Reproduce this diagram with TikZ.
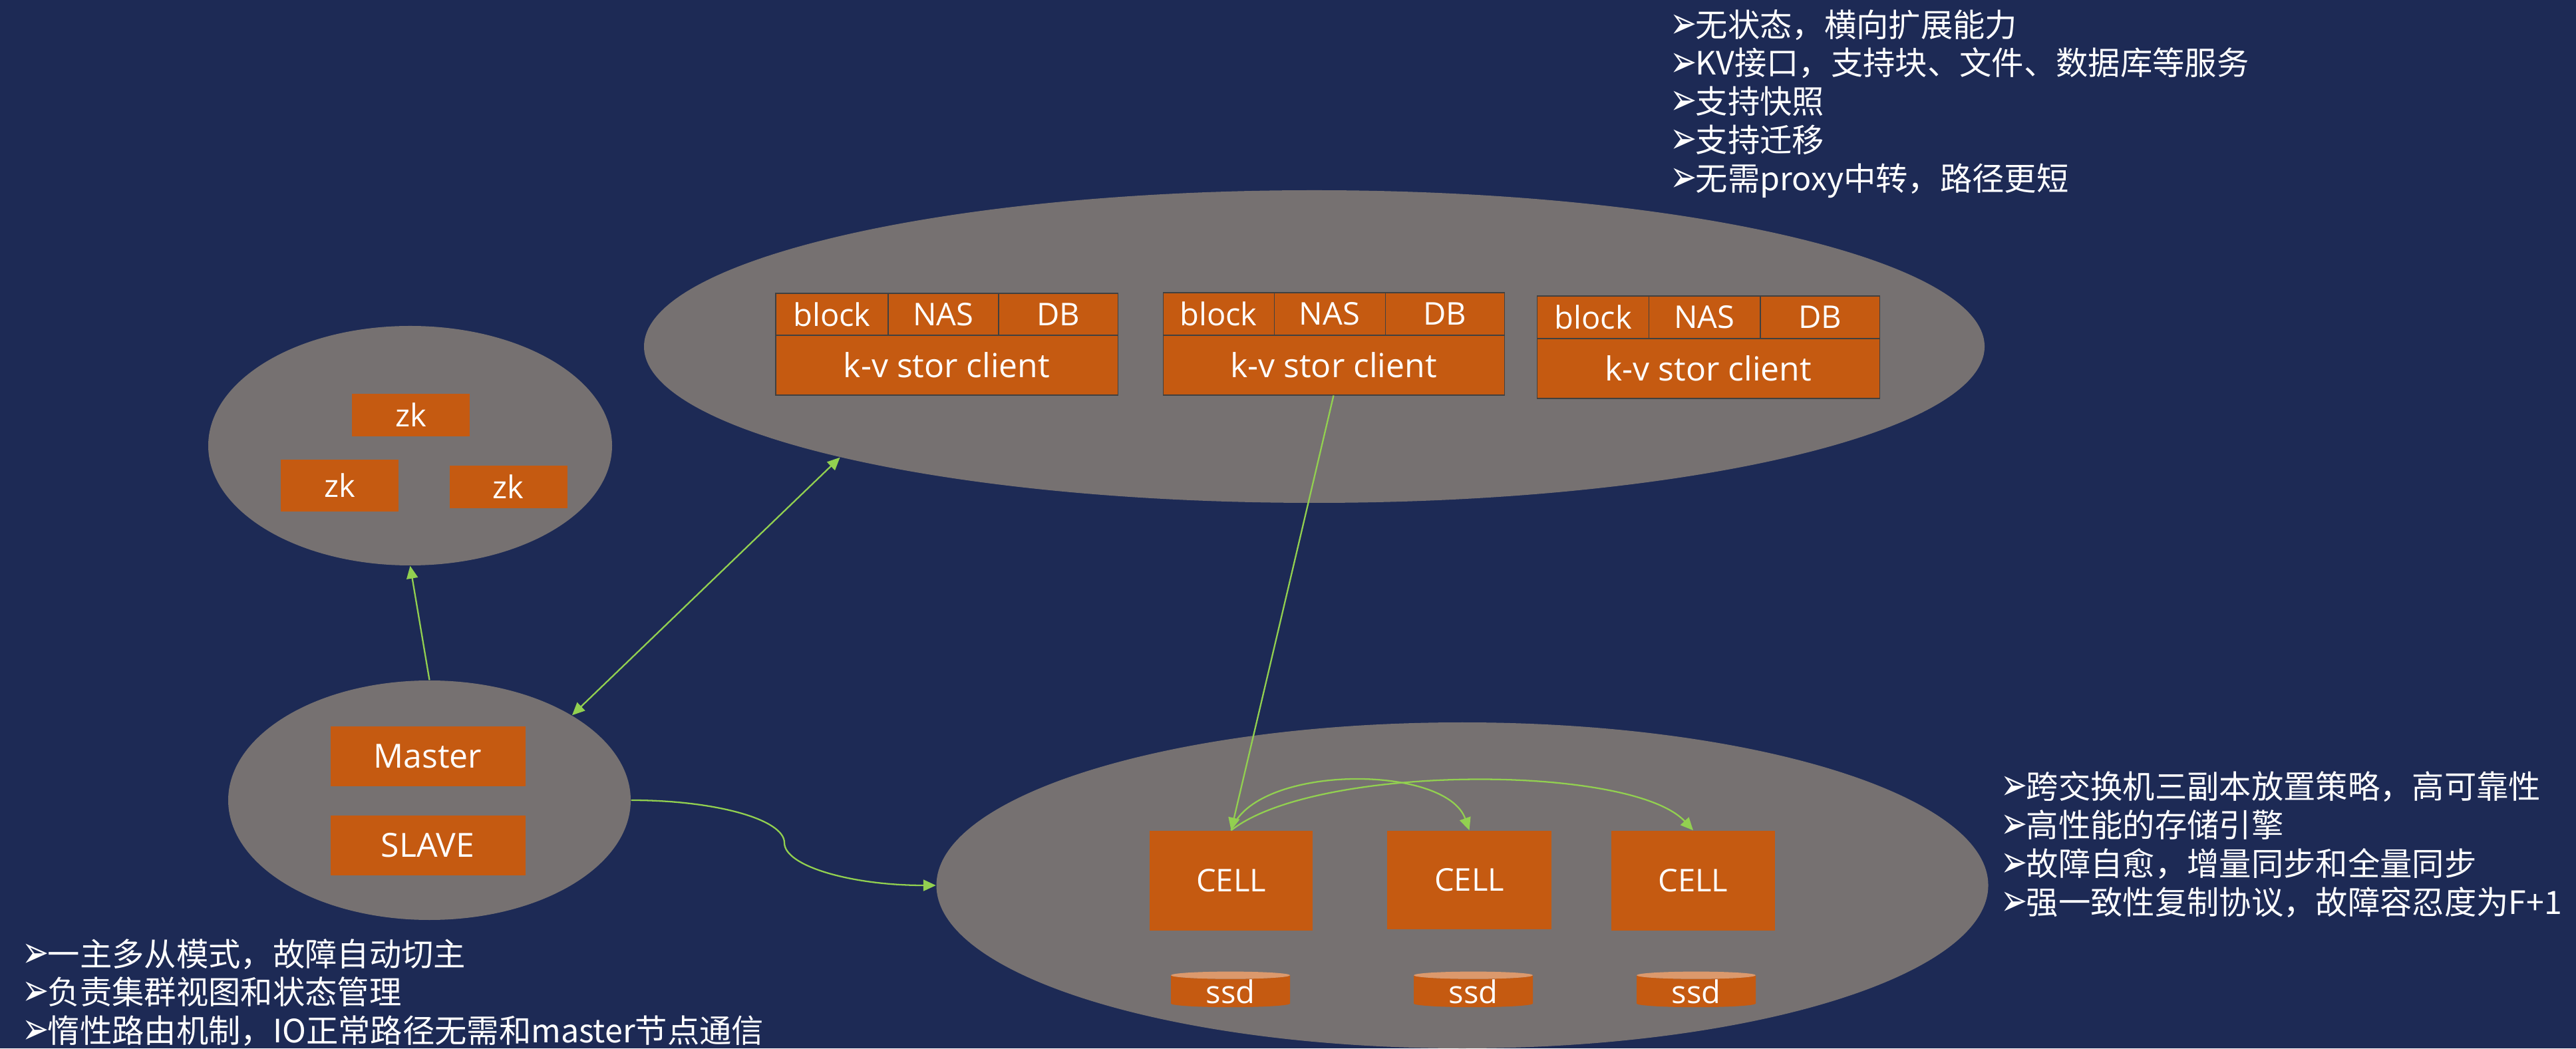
\documentclass[tikz,border=0pt]{standalone}
\usepackage{fontspec}
\setmainfont{Open Sans}
\newfontfamily\cjkfont{Noto Sans CJK SC}
\newfontfamily\markfont{DejaVu Sans}
\usetikzlibrary{arrows.meta,shapes.geometric}
\definecolor{bgblue}{RGB}{29,42,85}
\definecolor{poolgray}{RGB}{118,113,113}
\definecolor{boxorange}{RGB}{197,90,17}
\definecolor{diskcap}{RGB}{220,153,108}
\definecolor{linkgreen}{RGB}{146,208,80}
\newcommand{\listmark}{\makebox[10pt][l]{\hspace{-1pt}\raisebox{-0.6pt}{\scalebox{0.98}[1.35]{\markfont\fontsize{14}{14}\selectfont ➢}}}}
\tikzset{
    pool/.style={ellipse,fill=poolgray,inner sep=0pt},
    box/.style={fill=boxorange,text=white,inner sep=0pt,font=\fontsize{13.4}{16}\selectfont},
    layer/.style={box,draw=black!75,line width=0.3pt},
    wide/.style={font=\fontsize{14.2}{16}\selectfont},
    disk/.style={cylinder,shape border rotate=90,aspect=0.15,cylinder uses custom fill,
        cylinder body fill=boxorange,cylinder end fill=diskcap,text=white,inner sep=0pt,
        font=\fontsize{13.4}{16}\selectfont},
    notes/.style={anchor=west,align=left,text=white,inner sep=0pt,
        font=\cjkfont\fontsize{13.75}{16.45}\selectfont},
    link/.style={draw=linkgreen,line width=0.65pt,-{Triangle[length=0.19cm,width=0.17cm]}},
    bothlink/.style={link,{Triangle[length=0.19cm,width=0.17cm]}-{Triangle[length=0.19cm,width=0.17cm]}}
}
\begin{document}
\begin{tikzpicture}
    \useasboundingbox (0,0) rectangle (38.72,15.76);
    \fill[bgblue] (0,0) rectangle (38.72,15.76);
    \node[pool,minimum width=20.15cm,minimum height=4.70cm] (clientpool) at (19.755,10.55) {};
    \node[pool,minimum width=6.07cm,minimum height=3.60cm] (zkpool) at (6.165,9.06) {};
    \node[pool,minimum width=6.05cm,minimum height=3.60cm] (masterpool) at (6.455,3.73) {};
    \node[pool,minimum width=15.81cm,minimum height=4.90cm] (cellpool) at (21.98,2.45) {};
    \node[box,minimum width=1.77cm,minimum height=0.64cm] (zka) at (6.175,9.52) {zk};
    \node[box,minimum width=1.77cm,minimum height=0.78cm] (zkb) at (5.105,8.46) {zk};
    \node[box,minimum width=1.77cm,minimum height=0.64cm] (zkc) at (7.64,8.44) {zk};
    \node[box,wide,minimum width=2.93cm,minimum height=0.90cm] (master) at (6.43,4.39) {Master};
    \node[box,wide,minimum width=2.93cm,minimum height=0.90cm] (slave) at (6.43,3.05) {SLAVE};
    \node[layer,minimum width=1.69cm,minimum height=0.63cm] (blocka) at (12.505,11.035) {block};
    \node[layer,minimum width=1.66cm,minimum height=0.63cm] (nasa) at (14.18,11.035) {NAS};
    \node[layer,minimum width=1.79cm,minimum height=0.63cm] (dba) at (15.905,11.035) {DB};
    \node[layer,wide,minimum width=5.14cm,minimum height=0.90cm] (kva) at (14.23,10.27) {k-v stor client};
    \node[layer,minimum width=1.67cm,minimum height=0.64cm] (blockb) at (18.315,11.04) {block};
    \node[layer,minimum width=1.67cm,minimum height=0.64cm] (nasb) at (19.985,11.04) {NAS};
    \node[layer,minimum width=1.79cm,minimum height=0.64cm] (dbb) at (21.715,11.04) {DB};
    \node[layer,wide,minimum width=5.13cm,minimum height=0.90cm] (kvb) at (20.045,10.27) {k-v stor client};
    \node[layer,minimum width=1.68cm,minimum height=0.64cm] (blockc) at (23.945,10.99) {block};
    \node[layer,minimum width=1.675cm,minimum height=0.64cm] (nasc) at (25.62,10.99) {NAS};
    \node[layer,minimum width=1.79cm,minimum height=0.64cm] (dbc) at (27.355,10.99) {DB};
    \node[layer,wide,minimum width=5.145cm,minimum height=0.90cm] (kvc) at (25.678,10.22) {k-v stor client};
    \node[box,minimum width=2.45cm,minimum height=1.50cm] (cella) at (18.505,2.52) {CELL};
    \node[box,minimum width=2.47cm,minimum height=1.48cm] (cellb) at (22.085,2.53) {CELL};
    \node[box,minimum width=2.46cm,minimum height=1.50cm] (cellc) at (25.45,2.52) {CELL};
    \node[disk,minimum width=1.79cm,minimum height=0.45cm] (ssda) at (18.495,0.855) {ssd};
    \node[disk,minimum width=1.79cm,minimum height=0.45cm] (ssdb) at (22.145,0.855) {ssd};
    \node[disk,minimum width=1.79cm,minimum height=0.45cm] (ssdc) at (25.495,0.855) {ssd};
    \node[notes] (clientnotes) at (25.13,14.2) {\listmark 无状态，横向扩展能力\\\listmark KV接口，支持块、文件、数据库等服务\\\listmark 支持快照\\\listmark 支持迁移\\\listmark 无需proxy中转，路径更短};
    \node[notes] (cellnotes) at (30.10,3.065) {\listmark 跨交换机三副本放置策略，高可靠性\\\listmark 高性能的存储引擎\\\listmark 故障自愈，增量同步和全量同步\\\listmark 强一致性复制协议，故障容忍度为F+1};
    \node[notes] (masternotes) at (0.36,0.84) {\listmark 一主多从模式，故障自动切主\\\listmark 负责集群视图和状态管理\\\listmark 惰性路由机制，IO正常路径无需和master节点通信};
    \coordinate (bend) at (11.79,3.09);
    \draw[link] (masterpool.north) to (zkpool.south);
    \draw[bothlink] (masterpool.north east) to (clientpool.south west);
    \draw[link] (kvb.south) to (cella.north);
    \draw[draw=linkgreen,line width=0.65pt] (masterpool.east) .. controls +(1.27,0) and +(0,0.35) .. (bend);
    \draw[link] (bend) .. controls +(0,-0.35) and +(-1.27,0) .. (cellpool.west);
    \draw[link] (cella.north) .. controls +(0.35,1.0) and +(-0.35,1.0) .. (cellb.north);
    \draw[link] (cella.north) .. controls +(1.27,1.0) and +(-0.93,1.0) .. (cellc.north);
\end{tikzpicture}
\end{document}
